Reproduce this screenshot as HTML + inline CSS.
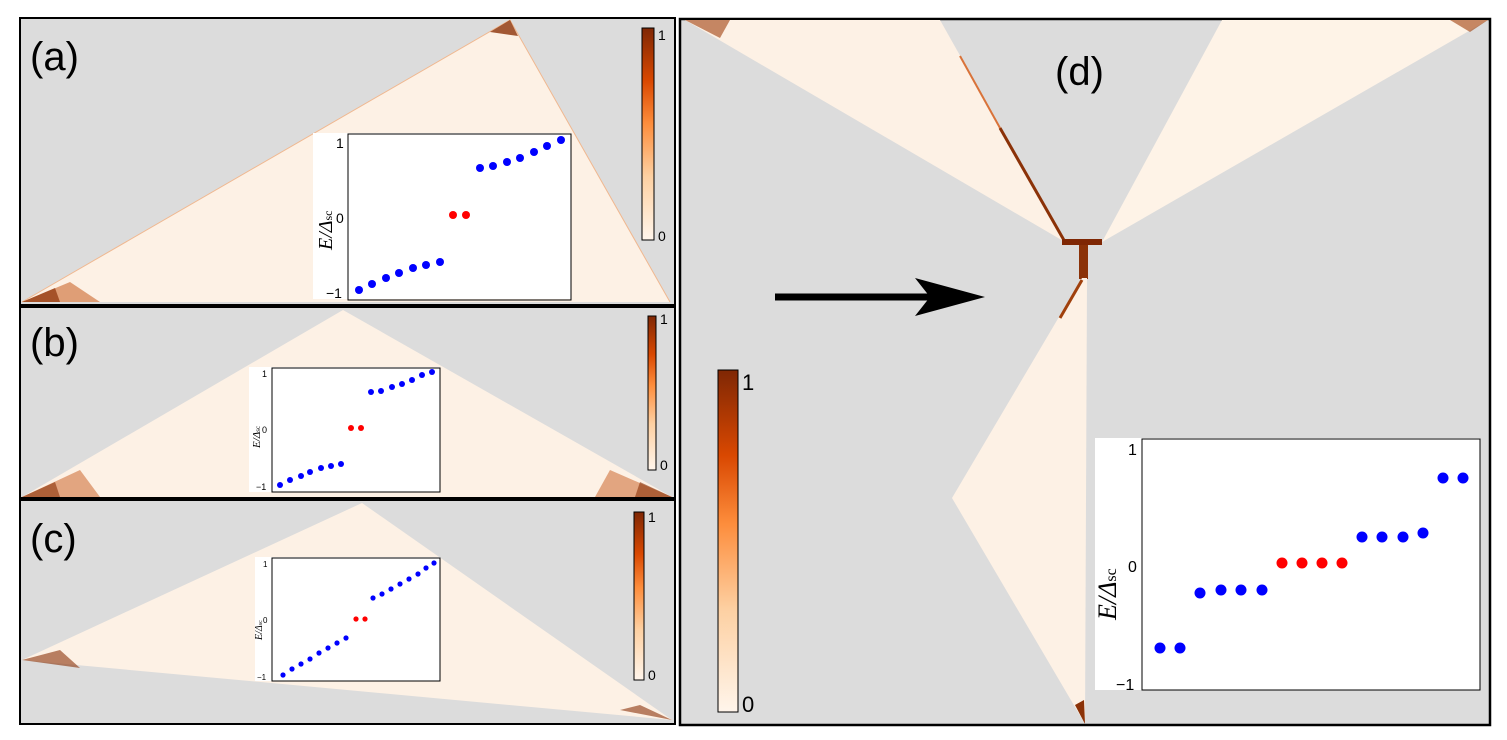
<!DOCTYPE html>
<html><head><meta charset="utf-8"><style>
html,body{margin:0;padding:0;background:#fff;}
svg{display:block;font-family:"Liberation Sans",sans-serif;}
.lbl{font-size:40px;fill:#000;}
.tk{font-size:14px;fill:#000;}
</style></head><body>
<svg width="1507" height="740" viewBox="0 0 1507 740" xmlns="http://www.w3.org/2000/svg">
<defs>
<linearGradient id="cb" x1="0" y1="0" x2="0" y2="1">
<stop offset="0" stop-color="#7f2704"/><stop offset="0.25" stop-color="#d94801"/>
<stop offset="0.45" stop-color="#fd8d3c"/><stop offset="0.7" stop-color="#fdd0a2"/>
<stop offset="1" stop-color="#fff5eb"/></linearGradient>
</defs>
<rect width="1507" height="740" fill="#fff"/>
<!-- panel a -->
<rect x="20" y="18" width="655" height="287" fill="#dcdcdc" stroke="#000" stroke-width="2"/>
<polygon points="22,302 510,20 670,302" fill="#fdf1e5"/>
<polyline points="22,302 510,20 670,302" fill="none" stroke="#f0b890" stroke-width="1"/>
<polygon points="22,302 70,282 100,302" fill="#c75a1c" opacity="0.55"/>
<polygon points="22,302 55,288 60,302" fill="#8b3208" opacity="0.7"/>
<polygon points="490,32 510,20 518,36" fill="#8b3208" opacity="0.8"/>
<text x="30" y="70" class="lbl">(a)</text>
<rect x="642" y="28" width="12" height="212" fill="url(#cb)" stroke="#000"/>
<text x="658" y="40" class="tk">1</text><text x="658" y="241" class="tk">0</text>
<rect x="313" y="133" width="258" height="166" fill="#fff"/>
<rect x="348" y="134" width="223" height="166" fill="none" stroke="#000"/>
<text x="336" y="148" class="tk">1</text><text x="336" y="223" class="tk">0</text><text x="326" y="298" class="tk">−1</text>
<text transform="translate(332,250) rotate(-90)" font-family="Liberation Serif" font-size="20" font-style="italic">E/Δ<tspan font-size="12" font-style="normal">sc</tspan></text>
<g fill="#0000ff"><circle cx="359" cy="290" r="4"/><circle cx="372" cy="284" r="4"/><circle cx="386" cy="278" r="4"/><circle cx="399" cy="273" r="4"/><circle cx="413" cy="268" r="4"/><circle cx="426" cy="265" r="4"/><circle cx="440" cy="262" r="4"/>
<circle cx="480" cy="168" r="4"/><circle cx="493" cy="166" r="4"/><circle cx="507" cy="162" r="4"/><circle cx="520" cy="158" r="4"/><circle cx="534" cy="152" r="4"/><circle cx="547" cy="146" r="4"/><circle cx="561" cy="140" r="4"/></g>
<g fill="#ff0000"><circle cx="453" cy="215" r="4"/><circle cx="466" cy="215" r="4"/></g>
<!-- panel b -->
<rect x="20" y="307" width="655" height="191" fill="#dcdcdc" stroke="#000" stroke-width="2"/>
<polygon points="22,497 343,310 672,497" fill="#fdf1e5"/>
<polygon points="22,497 80,470 100,497" fill="#c75a1c" opacity="0.5"/>
<polygon points="22,497 55,482 60,497" fill="#8b3208" opacity="0.6"/>
<polygon points="610,470 672,497 595,497" fill="#c75a1c" opacity="0.5"/>
<polygon points="640,482 672,497 635,497" fill="#8b3208" opacity="0.6"/>
<text x="30" y="356" class="lbl">(b)</text>
<rect x="648" y="316" width="8" height="154" fill="url(#cb)" stroke="#000"/>
<text x="660" y="324" class="tk" font-size="10">1</text><text x="660" y="470" class="tk" font-size="10">0</text>
<rect x="249" y="367" width="191" height="125" fill="#fff"/>
<rect x="272" y="368" width="168" height="124" fill="none" stroke="#000"/>
<text x="262" y="377" font-size="9">1</text><text x="262" y="433" font-size="9">0</text><text x="256" y="490" font-size="9">−1</text>
<text transform="translate(260,448) rotate(-90)" font-family="Liberation Serif" font-size="11" font-style="italic">E/Δ<tspan font-size="7" font-style="normal">sc</tspan></text>
<g fill="#0000ff"><circle cx="280" cy="485" r="3"/><circle cx="290" cy="480" r="3"/><circle cx="301" cy="476" r="3"/><circle cx="310" cy="472" r="3"/><circle cx="321" cy="468" r="3"/><circle cx="331" cy="466" r="3"/><circle cx="341" cy="464" r="3"/>
<circle cx="371" cy="392" r="3"/><circle cx="381" cy="391" r="3"/><circle cx="392" cy="387" r="3"/><circle cx="402" cy="384" r="3"/><circle cx="412" cy="380" r="3"/><circle cx="422" cy="375" r="3"/><circle cx="432" cy="372" r="3"/></g>
<g fill="#ff0000"><circle cx="351" cy="428" r="3"/><circle cx="361" cy="428" r="3"/></g>
<!-- panel c -->
<rect x="20" y="500" width="655" height="224" fill="#dcdcdc" stroke="#000" stroke-width="2"/>
<polygon points="22,660 362,503 672,720" fill="#fdf1e5"/>
<polygon points="22,660 60,650 80,668" fill="#8b3208" opacity="0.6"/>
<polygon points="640,705 672,720 620,710" fill="#8b3208" opacity="0.6"/>
<text x="30" y="552" class="lbl">(c)</text>
<rect x="634" y="512" width="10" height="168" fill="url(#cb)" stroke="#000"/>
<text x="648" y="522" class="tk" font-size="10">1</text><text x="648" y="680" class="tk" font-size="10">0</text>
<rect x="255" y="557" width="185" height="124" fill="#fff"/>
<rect x="272" y="558" width="168" height="123" fill="none" stroke="#000"/>
<text x="263" y="567" font-size="8">1</text><text x="263" y="623" font-size="8">0</text><text x="257" y="680" font-size="8">−1</text>
<text transform="translate(262,640) rotate(-90)" font-family="Liberation Serif" font-size="10" font-style="italic">E/Δ<tspan font-size="6" font-style="normal">sc</tspan></text>
<g fill="#0000ff"><circle cx="283" cy="675" r="2.6"/><circle cx="292" cy="669" r="2.6"/><circle cx="301" cy="664" r="2.6"/><circle cx="310" cy="659" r="2.6"/><circle cx="319" cy="653" r="2.6"/><circle cx="328" cy="648" r="2.6"/><circle cx="337" cy="643" r="2.6"/><circle cx="346" cy="638" r="2.6"/>
<circle cx="373" cy="598" r="2.6"/><circle cx="382" cy="594" r="2.6"/><circle cx="391" cy="589" r="2.6"/><circle cx="400" cy="584" r="2.6"/><circle cx="409" cy="579" r="2.6"/><circle cx="418" cy="574" r="2.6"/><circle cx="426" cy="568" r="2.6"/><circle cx="434" cy="563" r="2.6"/></g>
<g fill="#ff0000"><circle cx="356" cy="619" r="2.6"/><circle cx="365" cy="619" r="2.6"/></g>
<!-- panel d -->
<rect x="680" y="19" width="810" height="706" fill="#dcdcdc" stroke="#000" stroke-width="2.5"/>
<polygon points="685,20 940,20 1065,242" fill="#fdf1e5"/>
<polyline points="1000,128 1065,242" fill="none" stroke="#8b3208" stroke-width="3"/>
<polyline points="960,56 1000,128" fill="none" stroke="#d9733a" stroke-width="2"/>
<polygon points="685,20 730,20 720,38" fill="#a0400c" opacity="0.6"/>
<polygon points="1222,20 1488,20 1102,242" fill="#fef3e7"/>
<polygon points="1450,20 1488,20 1470,32" fill="#a0400c" opacity="0.6"/>
<rect x="1062" y="239" width="40" height="6" fill="#7f2704"/>
<rect x="1079" y="245" width="9" height="34" fill="#8b3208"/>
<polygon points="1082,278 952,498 1085,724 1087,278" fill="#fdf1e5"/>
<polyline points="1082,280 1060,318" fill="none" stroke="#a0400c" stroke-width="3"/>
<polygon points="1075,705 1085,724 1084,700" fill="#8b3208"/>
<text x="1055" y="85" class="lbl">(d)</text>
<line x1="775" y1="297" x2="930" y2="297" stroke="#000" stroke-width="7"/>
<polygon points="915,278 985,297 915,316 930,297" fill="#000"/>
<rect x="718" y="370" width="20" height="342" fill="url(#cb)" stroke="#000"/>
<text x="742" y="390" font-size="22">1</text><text x="742" y="712" font-size="22">0</text>
<rect x="1095" y="438" width="385" height="252" fill="#fff"/>
<rect x="1142" y="439" width="338" height="251" fill="none" stroke="#000"/>
<text x="1128" y="455" font-size="16">1</text><text x="1128" y="572" font-size="16">0</text><text x="1116" y="690" font-size="16">−1</text>
<text transform="translate(1116,620) rotate(-90)" font-family="Liberation Serif" font-size="26" font-style="italic">E/Δ<tspan font-size="16" font-style="normal">sc</tspan></text>
<g fill="#0000ff"><circle cx="1160" cy="648" r="5.5"/><circle cx="1180" cy="648" r="5.5"/><circle cx="1200" cy="593" r="5.5"/><circle cx="1221" cy="590" r="5.5"/><circle cx="1241" cy="590" r="5.5"/><circle cx="1262" cy="590" r="5.5"/>
<circle cx="1362" cy="537" r="5.5"/><circle cx="1382" cy="537" r="5.5"/><circle cx="1403" cy="537" r="5.5"/><circle cx="1423" cy="533" r="5.5"/><circle cx="1443" cy="478" r="5.5"/><circle cx="1463" cy="478" r="5.5"/></g>
<g fill="#ff0000"><circle cx="1282" cy="563" r="5.5"/><circle cx="1302" cy="563" r="5.5"/><circle cx="1322" cy="563" r="5.5"/><circle cx="1342" cy="563" r="5.5"/></g>
</svg>
</body></html>
